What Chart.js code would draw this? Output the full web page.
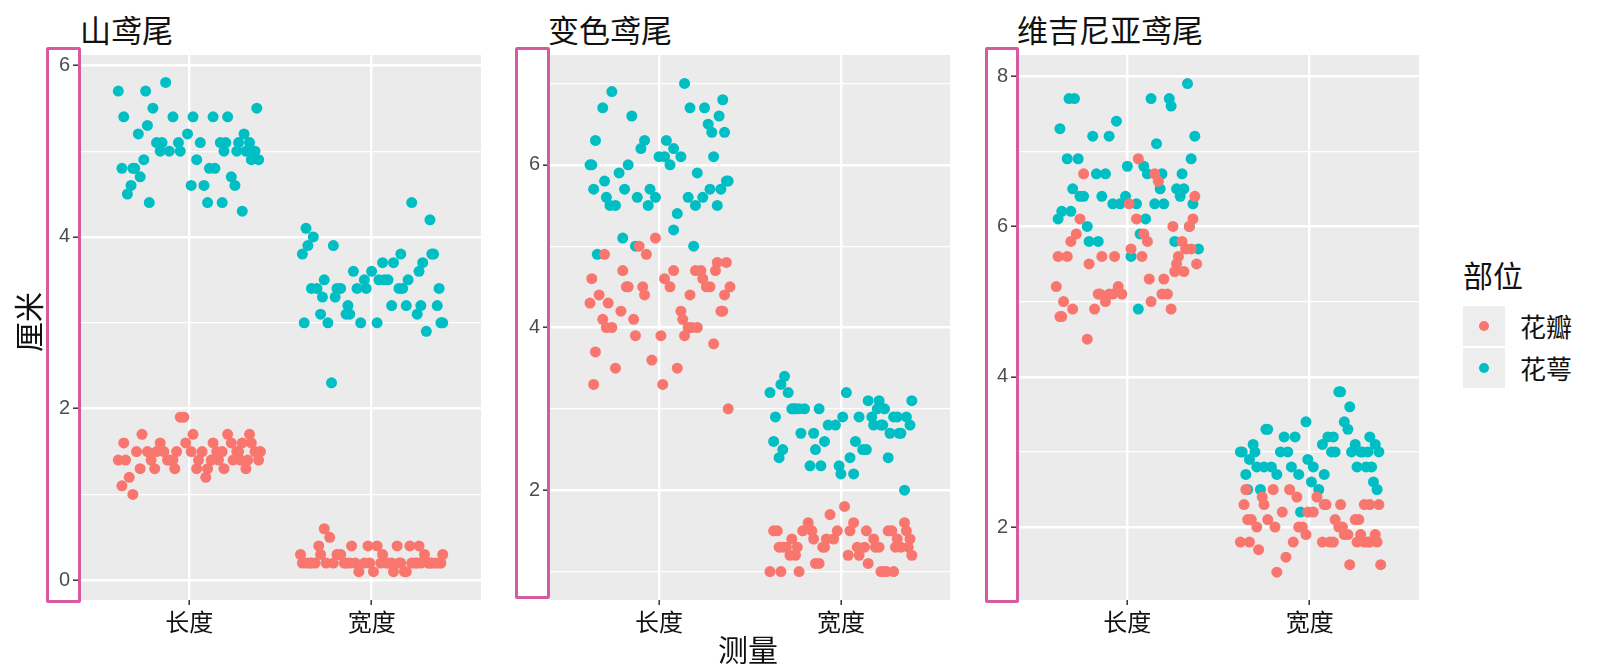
<!DOCTYPE html>
<html>
<head>
<meta charset="utf-8">
<script src="https://cdn.jsdelivr.net/npm/chart.js@4"></script>
<style>
  body { margin: 0; background: #fff; width: 1600px; height: 671px; position: relative; overflow: hidden;
         font-family: "Noto Sans CJK SC", "Noto Sans", sans-serif; }
  canvas { position: absolute; top: 40px; }
  .title { position: absolute; top: 13px; font-size: 31px; line-height: 32px; color: #111; }
  .axisTitle { position: absolute; font-size: 30px; line-height: 32px; color: #111; }
  .hl { position: absolute; border: 3px solid #D65A9F; border-radius: 2px; box-sizing: border-box; }
  .key { position: absolute; left: 1463px; width: 42px; height: 40px; background: #EDEDED; }
  .key span { position: absolute; left: 16px; top: 15px; width: 10px; height: 10px; border-radius: 50%; }
  .keyLabel { position: absolute; left: 1520px; font-size: 26px; line-height: 28px; color: #111; }
</style>
</head>
<body>
<div class="title" style="left:80px">山鸢尾</div>
<div class="title" style="left:548px">变色鸢尾</div>
<div class="title" style="left:1017px">维吉尼亚鸢尾</div>

<canvas id="c1" width="446" height="605" style="left:35px"></canvas>
<canvas id="c2" width="445" height="605" style="left:505px"></canvas>
<canvas id="c3" width="446" height="605" style="left:973px"></canvas>

<div class="hl" style="left:46px;top:47px;width:35px;height:556px"></div>
<div class="hl" style="left:515px;top:47px;width:35px;height:552px"></div>
<div class="hl" style="left:985px;top:47px;width:34px;height:556px"></div>

<div class="axisTitle" style="left:-3px;top:306px;transform:rotate(-90deg);width:60px;text-align:center">厘米</div>
<div class="axisTitle" style="left:700px;top:632px;width:96px;text-align:center">测量</div>

<div class="axisTitle" style="left:1463px;top:258px">部位</div>
<div class="key" style="top:306px"><span style="background:#F8766D"></span></div>
<div class="key" style="top:348px"><span style="background:#00BFC4"></span></div>
<div class="keyLabel" style="top:312px">花瓣</div>
<div class="keyLabel" style="top:354px">花萼</div>

<script>
const categories = ['长度', '宽度'];
const parts = ['花瓣', '花萼'];
const partColors = ['#F8766D', '#00BFC4'];

// 山鸢尾
const setosaSepalLength = [5.1,4.9,4.7,4.6,5.0,5.4,4.6,5.0,4.4,4.9, 5.4,4.8,4.8,4.3,5.8,5.7,5.4,5.1,5.7,5.1, 5.4,5.1,4.6,5.1,4.8,5.0,5.0,5.2,5.2,4.7, 4.8,5.4,5.2,5.5,4.9,5.0,5.5,4.9,4.4,5.1, 5.0,4.5,4.4,5.0,5.1,4.8,5.1,4.6,5.3,5.0];
const setosaSepalWidth  = [3.5,3.0,3.2,3.1,3.6,3.9,3.4,3.4,2.9,3.1, 3.7,3.4,3.0,3.0,4.0,4.4,3.9,3.5,3.8,3.8, 3.4,3.7,3.6,3.3,3.4,3.0,3.4,3.5,3.4,3.2, 3.1,3.4,4.1,4.2,3.1,3.2,3.5,3.6,3.0,3.4, 3.5,2.3,3.2,3.5,3.8,3.0,3.8,3.2,3.7,3.3];
const setosaPetalLength = [1.4,1.4,1.3,1.5,1.4,1.7,1.4,1.5,1.4,1.5, 1.5,1.6,1.4,1.1,1.2,1.5,1.3,1.4,1.7,1.5, 1.7,1.5,1.0,1.7,1.9,1.6,1.6,1.5,1.4,1.6, 1.6,1.5,1.5,1.4,1.5,1.2,1.3,1.4,1.3,1.5, 1.3,1.3,1.3,1.6,1.9,1.4,1.6,1.4,1.5,1.4];
const setosaPetalWidth  = [0.2,0.2,0.2,0.2,0.2,0.4,0.3,0.2,0.2,0.1, 0.2,0.2,0.1,0.1,0.2,0.4,0.4,0.3,0.3,0.3, 0.2,0.4,0.2,0.5,0.2,0.2,0.4,0.2,0.2,0.2, 0.2,0.4,0.1,0.2,0.2,0.2,0.2,0.1,0.2,0.2, 0.3,0.3,0.2,0.6,0.4,0.3,0.2,0.2,0.2,0.2];

// 变色鸢尾
const versiSepalLength = [7.0,6.4,6.9,5.5,6.5,5.7,6.3,4.9,6.6,5.2, 5.0,5.9,6.0,6.1,5.6,6.7,5.6,5.8,6.2,5.6, 5.9,6.1,6.3,6.1,6.4,6.6,6.8,6.7,6.0,5.7, 5.5,5.5,5.8,6.0,5.4,6.0,6.7,6.3,5.6,5.5, 5.5,6.1,5.8,5.0,5.6,5.7,5.7,6.2,5.1,5.7];
const versiSepalWidth  = [3.2,3.2,3.1,2.3,2.8,2.8,3.3,2.4,2.9,2.7, 2.0,3.0,2.2,2.9,2.9,3.1,3.0,2.7,2.2,2.5, 3.2,2.8,2.5,2.8,2.9,3.0,2.8,3.0,2.9,2.6, 2.4,2.4,2.7,2.7,3.0,3.4,3.1,2.3,3.0,2.5, 2.6,3.0,2.6,2.3,2.7,3.0,2.9,2.9,2.5,2.8];
const versiPetalLength = [4.7,4.5,4.9,4.0,4.6,4.5,4.7,3.3,4.6,3.9, 3.5,4.2,4.0,4.7,3.6,4.4,4.5,4.1,4.5,3.9, 4.8,4.0,4.9,4.7,4.3,4.4,4.8,5.0,4.5,3.5, 3.8,3.7,3.9,5.1,4.5,4.5,4.7,4.4,4.1,4.0, 4.4,4.6,4.0,3.3,4.2,4.2,4.2,4.3,3.0,4.1];
const versiPetalWidth  = [1.4,1.5,1.5,1.3,1.5,1.3,1.6,1.0,1.3,1.4, 1.0,1.5,1.0,1.4,1.3,1.4,1.5,1.0,1.5,1.1, 1.8,1.3,1.5,1.2,1.3,1.4,1.4,1.7,1.5,1.0, 1.1,1.0,1.2,1.6,1.5,1.6,1.5,1.3,1.3,1.3, 1.2,1.4,1.2,1.0,1.3,1.2,1.3,1.3,1.1,1.3];

// 维吉尼亚鸢尾
const virgSepalLength = [6.3,5.8,7.1,6.3,6.5,7.6,4.9,7.3,6.7,7.2, 6.5,6.4,6.8,5.7,5.8,6.4,6.5,7.7,7.7,6.0, 6.9,5.6,7.7,6.3,6.7,7.2,6.2,6.1,6.4,7.2, 7.4,7.9,6.4,6.3,6.1,7.7,6.3,6.4,6.0,6.9, 6.7,6.9,5.8,6.8,6.7,6.7,6.3,6.5,6.2,5.9];
const virgSepalWidth  = [3.3,2.7,3.0,2.9,3.0,3.0,2.5,2.9,2.5,3.6, 3.2,2.7,3.0,2.5,2.8,3.2,3.0,3.8,2.6,2.2, 3.2,2.8,2.8,2.7,3.3,3.2,2.8,3.0,2.8,3.0, 2.8,3.8,2.8,2.8,2.6,3.0,3.4,3.1,3.0,3.1, 3.1,3.1,2.7,3.2,3.3,3.0,2.5,3.0,3.4,3.0];
const virgPetalLength = [6.0,5.1,5.9,5.6,5.8,6.6,4.5,6.3,5.8,6.1, 5.1,5.3,5.5,5.0,5.1,5.3,5.5,6.7,6.9,5.0, 5.7,4.9,6.7,4.9,5.7,6.0,4.8,4.9,5.6,5.8, 6.1,6.4,5.6,5.1,5.6,6.1,5.6,5.5,4.8,5.4, 5.6,5.1,5.1,5.9,5.7,5.2,5.0,5.2,5.4,5.1];
const virgPetalWidth  = [2.5,1.9,2.1,1.8,2.2,2.1,1.7,1.8,1.8,2.5, 2.0,1.9,2.1,2.0,2.4,2.3,1.8,2.2,2.3,1.5, 2.3,2.0,2.0,1.8,2.1,1.8,1.8,1.8,2.1,1.6, 1.9,2.0,2.2,1.5,1.4,2.3,2.4,1.8,1.8,2.1, 2.4,2.3,1.9,2.3,2.5,2.3,1.9,2.0,2.3,1.8];

// horizontal jitter (offset from the category centre)
const jitA = [-0.35,0.12,-0.08,0.27,-0.21,0.33,0.05,-0.14,0.38,-0.29, 0.18,-0.02,0.24,-0.37,0.09,-0.18,0.31,-0.11,0.02,0.36, -0.26,0.15,-0.31,0.21,-0.05,0.29,-0.16,0.07,-0.39,0.13, 0.34,-0.23,0.01,-0.09,0.26,-0.33,0.19,-0.12,0.04,0.39, -0.27,0.10,-0.19,0.23,-0.03,0.32,-0.36,0.16,-0.07,0.28];
const jitB = [0.22,-0.31,0.05,0.37,-0.14,-0.02,0.29,-0.38,0.11,0.18, -0.25,0.33,-0.07,0.01,-0.34,0.26,0.14,-0.19,0.39,-0.28, 0.08,-0.11,0.31,-0.23,0.16,-0.36,0.03,0.25,-0.15,0.35, -0.04,-0.29,0.19,0.09,-0.21,0.38,-0.33,0.12,-0.09,0.27, -0.17,0.06,0.32,-0.26,0.21,-0.39,0.15,-0.01,0.24,-0.12];
const jitC = [-0.18,0.34,-0.27,0.08,0.19,-0.36,0.25,-0.05,-0.22,0.38, 0.02,-0.31,0.14,0.29,-0.13,-0.39,0.21,0.06,-0.24,0.33, -0.09,0.17,-0.32,0.27,0.11,-0.16,0.36,-0.28,-0.01,0.23, -0.37,0.13,0.30,-0.20,0.04,-0.11,0.37,-0.25,0.18,-0.06, 0.26,-0.34,0.10,0.35,-0.15,-0.30,0.20,0.01,-0.23,0.31];
const jitD = [0.07,-0.24,0.36,-0.12,0.26,-0.35,-0.03,0.17,0.30,-0.28, 0.12,-0.17,0.39,-0.06,-0.32,0.22,-0.21,0.04,0.34,-0.38, 0.15,0.28,-0.10,-0.27,0.37,0.03,-0.19,0.20,-0.33,0.11, 0.25,-0.08,-0.36,0.32,-0.14,0.19,-0.26,0.00,0.38,-0.30, 0.09,-0.22,0.27,-0.04,0.16,-0.37,0.33,-0.13,0.06,-0.20];
const jitE = [0.31,-0.09,-0.30,0.16,0.03,0.39,-0.20,-0.36,0.24,-0.13, 0.10,0.35,-0.26,0.20,-0.04,-0.33,0.28,0.13,-0.17,0.01, 0.37,-0.29,-0.07,0.23,-0.38,0.17,0.32,-0.11,0.06,-0.24, 0.30,-0.35,0.14,-0.02,0.26,-0.18,0.08,0.36,-0.31,0.21, -0.08,-0.37,0.18,0.02,0.34,-0.21,0.12,-0.28,0.38,-0.14];
const jitF = [-0.04,0.28,-0.37,0.19,-0.16,0.09,0.35,-0.23,-0.10,0.31, -0.33,0.05,0.22,-0.27,0.37,-0.08,0.14,-0.39,0.26,-0.14, 0.02,0.33,-0.21,0.10,-0.30,0.38,0.18,-0.06,-0.35,0.24, -0.12,0.29,-0.25,0.07,0.36,-0.18,-0.02,0.21,-0.32,0.13, 0.39,-0.15,-0.28,0.25,-0.09,0.04,-0.34,0.30,0.15,-0.24];
const jitG = [0.14,0.36,-0.26,-0.06,0.27,-0.19,0.04,-0.34,0.33,0.08, -0.13,0.21,-0.38,0.30,-0.02,0.17,-0.29,0.38,-0.10,0.24, -0.22,0.00,-0.35,0.12,0.29,-0.15,0.35,-0.31,0.06,-0.05, 0.20,-0.27,0.37,-0.17,0.10,-0.37,0.25,-0.08,0.16,-0.24, 0.32,0.03,-0.30,0.19,-0.12,0.28,-0.36,0.08,-0.20,0.34];
const jitH = [-0.29,0.03,0.21,-0.17,0.38,-0.07,-0.33,0.26,0.10,-0.22, 0.35,-0.12,0.00,0.29,-0.36,0.15,-0.25,0.32,0.07,-0.14, -0.39,0.23,0.12,-0.03,0.36,-0.27,0.18,-0.20,0.31,-0.09, -0.34,0.05,0.27,-0.15,0.20,-0.31,0.39,-0.01,-0.23,0.14, -0.37,0.24,0.08,-0.11,0.33,-0.26,0.01,0.17,-0.32,0.22];
const jitI = [0.25,-0.15,0.09,-0.38,0.30,0.17,-0.22,0.01,-0.31,0.36, -0.08,0.12,0.27,-0.35,-0.03,0.20,0.38,-0.24,0.06,-0.12, 0.32,-0.30,0.15,-0.18,0.02,0.34,-0.37,0.24,-0.07,0.11, -0.26,0.37,-0.14,0.19,-0.33,0.05,0.28,-0.21,-0.36,0.31, 0.08,-0.10,0.22,-0.28,0.35,-0.05,0.13,-0.39,0.26,-0.16];
const jitJ = [-0.11,0.19,-0.32,0.33,-0.01,0.25,-0.28,0.13,0.37,-0.20, -0.06,0.28,-0.34,0.16,0.04,-0.25,0.30,-0.15,0.09,0.39, -0.36,0.18,-0.04,0.26,-0.23,0.07,-0.38,0.32,0.14,-0.13, 0.36,-0.29,0.02,0.22,-0.18,0.30,-0.07,-0.33,0.11,0.27, -0.26,0.17,-0.02,0.38,-0.35,0.08,0.21,-0.19,0.33,-0.09];
const jitK = [0.36,-0.21,0.16,-0.04,-0.30,0.24,0.06,-0.37,0.19,-0.10, 0.31,-0.26,0.09,0.39,-0.16,-0.01,0.27,-0.32,0.13,-0.22, 0.35,0.02,-0.29,0.20,-0.12,0.37,-0.36,0.10,0.29,-0.19, -0.06,0.33,-0.24,0.15,-0.38,0.23,0.05,-0.14,0.34,-0.27, 0.11,-0.33,0.26,0.00,-0.17,0.30,-0.08,0.18,-0.31,0.07];
const jitL = [-0.23,0.08,0.29,-0.33,0.14,-0.12,0.37,-0.01,-0.27,0.22, 0.33,-0.18,-0.37,0.05,0.26,-0.08,-0.30,0.17,0.35,-0.05, 0.10,-0.25,0.31,-0.35,0.21,-0.14,0.02,0.28,-0.21,0.38, -0.10,0.16,-0.29,0.34,0.01,-0.38,0.19,0.25,-0.16,0.07, -0.31,0.36,-0.06,0.13,-0.24,0.32,-0.34,0.23,-0.02,0.12];

// y axis ranges and ticks per panel (free scales)
const setosaRange = [-0.23, 6.12];
const versiRange = [0.65, 7.35];
const virgRange = [1.03, 8.28];
const setosaTicks = [0, 1, 2, 3, 4, 5, 6];
const versiTicks = [1, 2, 3, 4, 5, 6, 7];
const virgTicks = [2, 3, 4, 5, 6, 7, 8];

const toPoints = (lenVals, lenJit, widVals, widJit) =>
  lenVals.map((v, i) => ({x: 1 + lenJit[i], y: v}))
    .concat(widVals.map((v, i) => ({x: 2 + widJit[i], y: v})));

const panelBg = {
  id: 'panelBg',
  beforeDraw(chart) {
    const a = chart.chartArea;
    const ctx = chart.ctx;
    ctx.save();
    ctx.fillStyle = '#EBEBEB';
    ctx.fillRect(a.left, a.top, a.right - a.left, a.bottom - a.top);
    ctx.restore();
  }
};

const makePanel = (id, petal, sepal, range, yTicks) => {
  new Chart(document.getElementById(id), {
    type: 'scatter',
    data: {
      datasets: [
        {label: parts[0], data: petal, backgroundColor: partColors[0], borderWidth: 0, pointRadius: 5.5, pointHoverRadius: 5.5},
        {label: parts[1], data: sepal, backgroundColor: partColors[1], borderWidth: 0, pointRadius: 5.5, pointHoverRadius: 5.5}
      ]
    },
    options: {
      responsive: false,
      animation: false,
      layout: {padding: {top: 5, right: 0, left: 0, bottom: 0}, autoPadding: false},
      plugins: {legend: {display: false}, tooltip: {enabled: false}},
      scales: {
        x: {
          type: 'linear', min: 0.4, max: 2.6,
          afterBuildTicks: s => { s.ticks = [{value: 1}, {value: 2}]; },
          afterFit: s => { s.height = 45; },
          border: {display: false},
          grid: {color: '#FFFFFF', lineWidth: 2.4, tickColor: '#333333', tickLength: 5, tickWidth: 1.5},
          ticks: {
            autoSkip: false, maxRotation: 0, padding: 2, color: '#111111',
            font: {family: '"Noto Sans CJK SC"', size: 24},
            callback: v => categories[v - 1]
          }
        },
        y: {
          min: range[0], max: range[1],
          afterBuildTicks: s => { s.ticks = yTicks.map(v => ({value: v})); },
          afterFit: s => { s.width = 45; },
          border: {display: false},
          grid: {
            color: '#FFFFFF',
            lineWidth: c => (c.tick && c.tick.value % 2 === 0) ? 2.4 : 1.2,
            tickColor: c => (c.tick && c.tick.value % 2 === 0) ? '#333333' : 'rgba(0,0,0,0)',
            tickLength: 7, tickWidth: 1.5
          },
          ticks: {
            autoSkip: false, padding: 3, color: '#4D4D4D',
            font: {family: '"Liberation Sans", Arial, sans-serif', size: 20},
            callback: v => v % 2 === 0 ? String(v) : ''
          }
        }
      }
    },
    plugins: [panelBg]
  });
};

makePanel('c1',
  toPoints(setosaPetalLength, jitA, setosaPetalWidth, jitB),
  toPoints(setosaSepalLength, jitC, setosaSepalWidth, jitD),
  setosaRange, setosaTicks);
makePanel('c2',
  toPoints(versiPetalLength, jitE, versiPetalWidth, jitF),
  toPoints(versiSepalLength, jitG, versiSepalWidth, jitH),
  versiRange, versiTicks);
makePanel('c3',
  toPoints(virgPetalLength, jitI, virgPetalWidth, jitJ),
  toPoints(virgSepalLength, jitK, virgSepalWidth, jitL),
  virgRange, virgTicks);
</script>
</body>
</html>
